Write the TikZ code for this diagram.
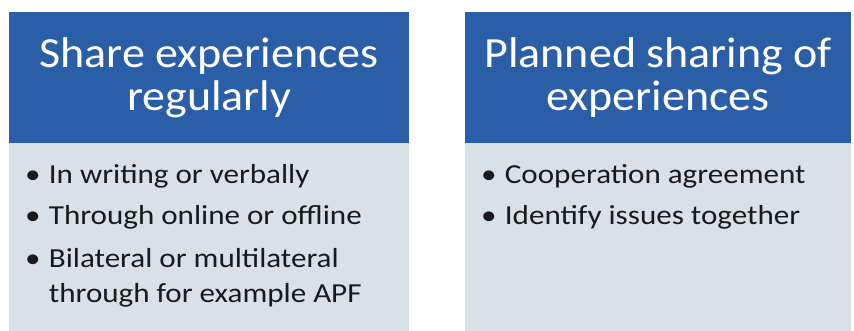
\documentclass[tikz,border=0pt]{standalone}
\usepackage{graphicx}
\usepackage{fontspec}
\setmainfont{Carlito}
\definecolor{hdr}{HTML}{2A5EA6}
\definecolor{bodyc}{HTML}{D7E1E6}
\definecolor{txt}{HTML}{1A1A1A}
\newcommand{\bulitem}[1]{\scalebox{1.13}[1]{\parbox[t]{300pt}{\raggedright\hangindent=21pt\hangafter=1\makebox[21pt][l]{•}#1}}}
\newcommand{\hdrline}[1]{\scalebox{1.07}[1]{#1}}
\begin{document}
\begin{tikzpicture}[x=1pt,y=-1pt,
  hdrbox/.style={fill=hdr, draw=none, anchor=north west, inner sep=0pt,
    text=white, font=\fontsize{43}{43}\selectfont, align=center},
  bodybox/.style={fill=bodyc, draw=none, anchor=north west, inner sep=0pt},
  itembox/.style={anchor=base west, inner sep=0pt, text=txt,
    font=\fontsize{27.5}{35}\selectfont}]
\useasboundingbox (0,0) rectangle (854,331);
\fill[white] (0,0) rectangle (854,331);
% left column
\node[bodybox, minimum width=400pt, minimum height=188pt] (lbody) at (9,143) {};
\node[hdrbox, minimum width=400pt, minimum height=131pt] (lhead) at (9,12) {\hdrline{Share experiences}\\\hdrline{regularly}};
% right column
\node[bodybox, minimum width=386pt, minimum height=188pt] (rbody) at (465,143) {};
\node[hdrbox, minimum width=386pt, minimum height=131pt] (rhead) at (465,12) {\hdrline{Planned sharing of}\\\hdrline{experiences}};
% left items
\node[itembox] (l1) at (25,184) {\bulitem{In writing or verbally}};
\node[itembox] (l2) at (25,225) {\bulitem{Through online or offline}};
\node[itembox] (l3) at (25,267) {\bulitem{Bilateral or multilateral through for example APF}};
% right items
\node[itembox] (r1) at (481,184) {\bulitem{Cooperation agreement}};
\node[itembox] (r2) at (481,225) {\bulitem{Identify issues together}};
\end{tikzpicture}
\end{document}
